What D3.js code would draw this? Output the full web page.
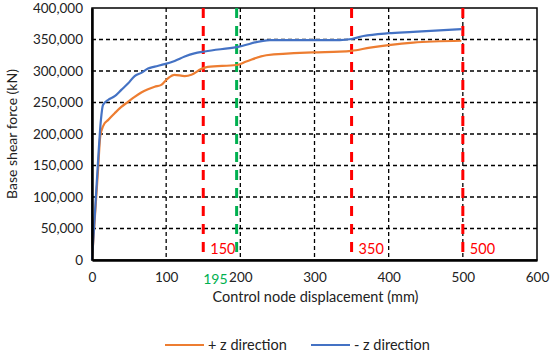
<!DOCTYPE html>
<html>
<head>
<meta charset="utf-8">
<script src="https://cdn.jsdelivr.net/npm/d3@7"></script>
<style>
	body { margin: 0; background: #fff; }
	svg { font-family: Lato, "Liberation Sans", sans-serif; }
</style>
</head>
<body>
<svg id="chart" width="550" height="355"></svg>
<script>
// displacement (mm) / base shear (kN)
var plusZDisp = [0, 4, 8, 11, 13, 17, 21.6, 30.6, 39.5, 48.5, 57.5, 66.5, 75.5, 84.5, 93.4, 102, 111, 125, 134, 147, 156, 195, 208, 235, 298, 334, 350, 375, 400, 433, 498];
var plusZForce = [0, 70000, 140000, 195000, 206000, 217000, 222000, 233000, 243000, 251000, 259000, 266000, 271000, 275000, 278000, 288000, 294000, 292000, 294000, 303000, 306500, 309500, 315000, 325000, 329500, 330600, 332000, 337000, 341000, 345000, 348000];

var minusZDisp = [0, 4, 8, 12, 14.8, 21.6, 30.6, 39.5, 48.5, 57.5, 66.5, 75.5, 84.5, 98, 111.4, 125, 138, 152, 195, 240, 298, 334, 350, 366, 400, 433, 498];
var minusZForce = [0, 75000, 154000, 222000, 246000, 254000, 260000, 270000, 280000, 292000, 297000, 304000, 307000, 311000, 316000, 323000, 328000, 331000, 338000, 349000, 349000, 349000, 350800, 355500, 360000, 362000, 366600];

var xTicks = [0, 100, 200, 300, 400, 500, 600];
var yTicks = [0, 50000, 100000, 150000, 200000, 250000, 300000, 350000, 400000];
var redMarks = [150, 350, 500];
var greenMarks = [195];

var svg = d3.select("#chart");
var margin = { left: 92, right: 13, top: 8, bottom: 95 };
var width = 550 - margin.left - margin.right;
var height = 355 - margin.top - margin.bottom;

var x = d3.scaleLinear().domain([0, 600]).range([0, width]);
var y = d3.scaleLinear().domain([0, 400000]).range([height, 0]);

var g = svg.append("g")
	.attr("transform", "translate(" + margin.left + "," + margin.top + ")");

// dashed grid
g.append("g").selectAll("line")
	.data(xTicks.slice(1, -1))
	.enter().append("line")
	.attr("x1", function(d) { return x(d); })
	.attr("x2", function(d) { return x(d); })
	.attr("y1", 0).attr("y2", height)
	.attr("stroke", "#000").attr("stroke-width", 1.3)
	.attr("stroke-dasharray", "4,3");

g.append("g").selectAll("line")
	.data(yTicks.slice(1, -1))
	.enter().append("line")
	.attr("x1", 0).attr("x2", width)
	.attr("y1", function(d) { return y(d); })
	.attr("y2", function(d) { return y(d); })
	.attr("stroke", "#000").attr("stroke-width", 1.3)
	.attr("stroke-dasharray", "4,3");

// frame
g.append("rect")
	.attr("width", width).attr("height", height)
	.attr("fill", "none").attr("stroke", "#000").attr("stroke-width", 1.5);

// marker lines
g.append("g").selectAll("line")
	.data(redMarks)
	.enter().append("line")
	.attr("x1", function(d) { return x(d); })
	.attr("x2", function(d) { return x(d); })
	.attr("y1", 0).attr("y2", height)
	.attr("stroke", "#ff0000").attr("stroke-width", 3)
	.attr("stroke-dasharray", "10,8");

g.append("g").selectAll("line")
	.data(greenMarks)
	.enter().append("line")
	.attr("x1", function(d) { return x(d); })
	.attr("x2", function(d) { return x(d); })
	.attr("y1", 0).attr("y2", height)
	.attr("stroke", "#00b050").attr("stroke-width", 3)
	.attr("stroke-dasharray", "10,8");

g.append("g").selectAll("text")
	.data(redMarks)
	.enter().append("text")
	.attr("x", function(d) { return x(d) + 7; })
	.attr("y", height - 6)
	.attr("fill", "#ff0000")
	.style("font-size", "14.5px")
	.text(function(d) { return d; });

g.append("g").selectAll("text")
	.data(greenMarks)
	.enter().append("text")
	.attr("x", function(d) { return x(d) - 9; })
	.attr("y", height + 24)
	.attr("text-anchor", "end")
	.attr("fill", "#00b050")
	.style("font-size", "14px")
	.text(function(d) { return d; });

// curves
var line = d3.line()
	.x(function(d) { return x(d[0]); })
	.y(function(d) { return y(d[1]); })
	.curve(d3.curveMonotoneX);

g.append("path")
	.datum(d3.zip(plusZDisp, plusZForce))
	.attr("d", line)
	.attr("fill", "none").attr("stroke", "#ed7d31").attr("stroke-width", 2.2);

g.append("path")
	.datum(d3.zip(minusZDisp, minusZForce))
	.attr("d", line)
	.attr("fill", "none").attr("stroke", "#4472c4").attr("stroke-width", 2.2);

// axes
var xAxis = g.append("g")
	.attr("transform", "translate(0," + height + ")")
	.call(d3.axisBottom(x).tickValues(xTicks).tickSize(0).tickPadding(12));
var yAxis = g.append("g")
	.call(d3.axisLeft(y).tickValues(yTicks).tickSize(0).tickPadding(9)
		.tickFormat(d3.format(",")));

[xAxis, yAxis].forEach(function(a) {
	a.select(".domain").attr("stroke", "#000").attr("stroke-width", 2.5);
	a.selectAll("text").style("font-size", "13.5px").style("font-family", "Lato, sans-serif").attr("fill", "#222");
});

g.append("text")
	.attr("x", width / 2 + 1)
	.attr("y", height + 42)
	.attr("text-anchor", "middle")
	.style("font-size", "14.5px").attr("fill", "#222")
	.text("Control node displacement (mm)");

svg.append("text")
	.attr("transform", "translate(17," + (margin.top + height / 2) + ") rotate(-90)")
	.attr("text-anchor", "middle")
	.style("font-size", "14px").attr("fill", "#222")
	.text("Base shear force (kN)");

// legend
var legend = [
	{ name: "+ z direction", color: "#ed7d31", x: 165 },
	{ name: "- z direction", color: "#4472c4", x: 311 }
];
var lg = svg.append("g").selectAll("g")
	.data(legend)
	.enter().append("g")
	.attr("transform", function(d) { return "translate(" + d.x + ",345)"; });
lg.append("line")
	.attr("x1", 0).attr("x2", 39)
	.attr("stroke", function(d) { return d.color; })
	.attr("stroke-width", 2.2);
lg.append("text")
	.attr("x", 43).attr("y", 5)
	.style("font-size", "14.5px").attr("fill", "#222")
	.text(function(d) { return d.name; });
</script>
</body>
</html>
